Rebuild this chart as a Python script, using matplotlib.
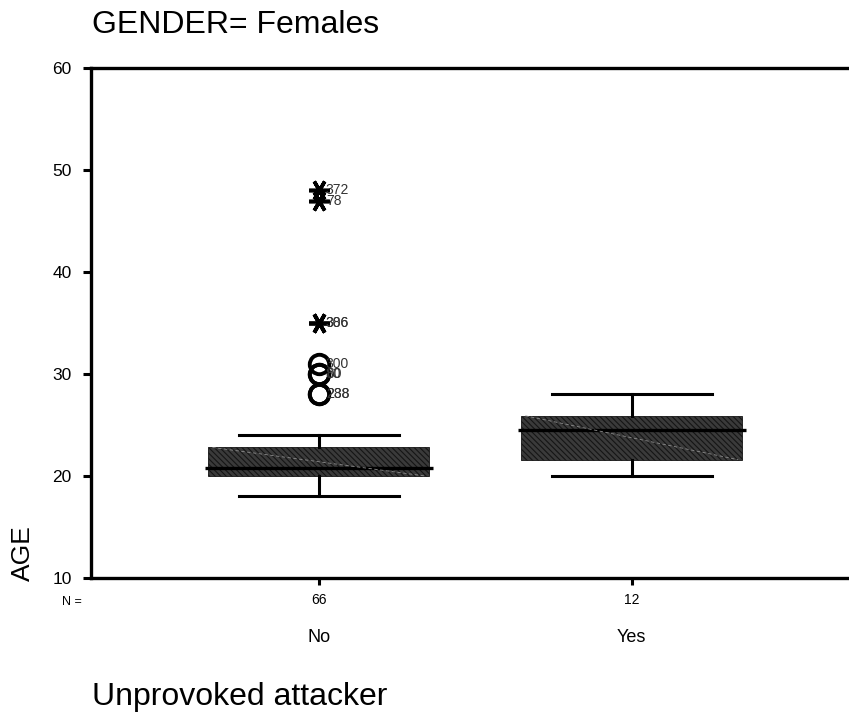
import matplotlib
matplotlib.use("Agg")
import matplotlib.pyplot as plt
import matplotlib.transforms as mtransforms

plt.rcParams["font.family"] = ["Liberation Sans", "DejaVu Sans"]
plt.rcParams["hatch.linewidth"] = 0.8

# --- data ---
groups = ["No", "Yes"]
counts = [66, 12]
q1 = [20.0, 21.6]
medians = [20.8, 24.5]
q3 = [22.8, 25.9]
whisker_lo = [18, 20]
whisker_hi = [24, 28]

# outliers (only the "No" group has any)
extreme_vals = [48, 47, 35, 35]
extreme_ids = ["372", "78", "306", "386"]
outlier_vals = [31, 30, 30, 28, 28]
outlier_ids = ["300", "80", "60", "288", "238"]

fig = plt.figure(figsize=(8.49, 7.15), dpi=100)
ax = fig.add_axes([91 / 849, 137 / 715, 758 / 849, 510 / 715])

positions = [1, 2]
stats = []
for i, g in enumerate(groups):
    stats.append({
        "label": g, "med": medians[i], "q1": q1[i], "q3": q3[i],
        "whislo": whisker_lo[i], "whishi": whisker_hi[i], "fliers": [],
    })

bp = ax.bxp(
    stats, positions=positions, widths=0.706, patch_artist=True,
    showfliers=False,
    boxprops=dict(facecolor="#3a3a3a", edgecolor="#151515", linewidth=0.6,
                  hatch="\\\\\\\\\\\\"),
    medianprops=dict(color="black", linewidth=2.4),
    whiskerprops=dict(color="black", linewidth=2.2),
    capprops=dict(color="black", linewidth=2.2),
    capwidths=0.51,
)

# median line runs a little past the box edges, as in SPSS
for med in bp["medians"]:
    x0, x1 = med.get_xdata()[0], med.get_xdata()[1]
    med.set_xdata([x0 - 0.012, x1 + 0.012])

# the faint diagonal artefact across each box
for i, p in enumerate(positions):
    ax.plot([p - 0.34, p + 0.34], [q3[i], q1[i]], color="#8a8a8a",
            lw=0.6, ls=(0, (4, 3)), zorder=3)

# extremes (asterisks) and outliers (circles) with case ids
ax.plot([1] * len(extreme_vals), extreme_vals, linestyle="none",
        marker=(6, 2, 90), markersize=15, markeredgewidth=2.6, color="black", zorder=4)
ax.plot([1] * len(outlier_vals), outlier_vals, linestyle="none",
        marker="o", markersize=14, markerfacecolor="none",
        markeredgewidth=2.8, markeredgecolor="black", zorder=4)
for v, lab in zip(extreme_vals + outlier_vals, extreme_ids + outlier_ids):
    ax.annotate(lab, (1, v), xytext=(5, 0), textcoords="offset points",
                va="center", ha="left", fontsize=10, color="#333333", zorder=5)

ax.set_xlim(0.272, 2.694)
ax.set_ylim(10, 60)
ax.set_yticks([10, 20, 30, 40, 50, 60])
ax.set_xticks(positions)
ax.set_xticklabels(groups, fontsize=13)
ax.tick_params(axis="x", length=5, width=2.2, pad=32)
ax.tick_params(axis="y", length=6, width=2.2, pad=8, labelsize=12.5)

for side in ["left", "bottom", "top"]:
    ax.spines[side].set_linewidth(2.4)
ax.spines["right"].set_visible(False)

# counts under each box
trans = mtransforms.blended_transform_factory(ax.transData, fig.transFigure)
for p, n in zip(positions, counts):
    ax.text(p, 1 - 600 / 715, str(n), transform=trans, ha="center",
            va="center", fontsize=10)
fig.text(62 / 849, 1 - 602 / 715, "N =", ha="left", va="center", fontsize=9)

fig.text(92 / 849, 1 - 33 / 715, "GENDER= Females", ha="left",
         va="baseline", fontsize=23)
fig.text(92 / 849, 1 - 705 / 715, "Unprovoked attacker", ha="left",
         va="baseline", fontsize=23)
fig.text(23 / 849, 1 - 553 / 715, "AGE", rotation=90, ha="center",
         va="center", fontsize=19)

fig.savefig("out.png", dpi=100)
